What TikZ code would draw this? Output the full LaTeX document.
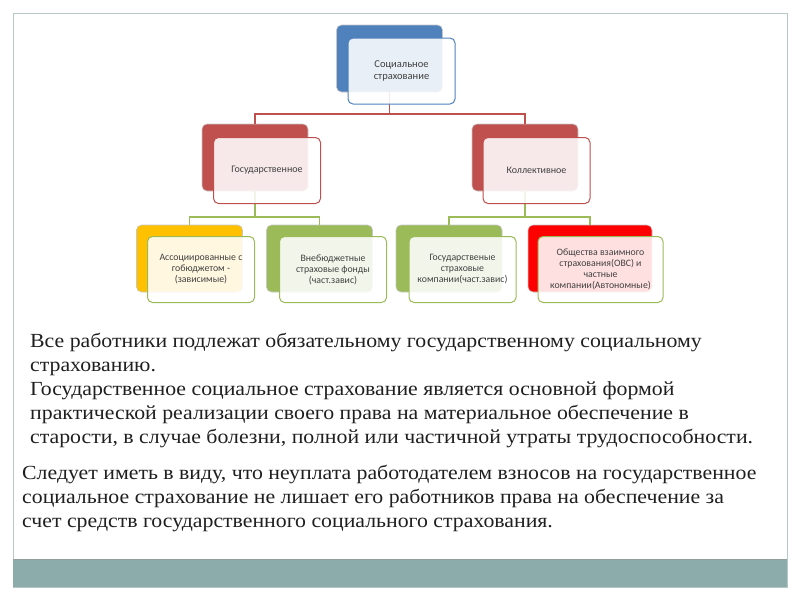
\documentclass[tikz,border=0pt]{standalone}
\usepackage{fontspec}
\setmainfont{Liberation Serif}[FakeStretch=1.09]
\newfontfamily\boxfont{Carlito}
\definecolor{cblue}{HTML}{4F81BD}
\definecolor{cred}{HTML}{C0504D}
\definecolor{cgreen}{HTML}{9BBB59}
\definecolor{cyellow}{HTML}{FFC000}
\definecolor{cbright}{HTML}{FF0000}
\definecolor{framec}{HTML}{B7C7C7}
\definecolor{barc}{HTML}{8BACAB}
\definecolor{boxtext}{HTML}{404040}
\tikzset{
  backbox/.style={rectangle, rounded corners=5pt, fill=#1, draw=gray!45, line width=0.6pt, minimum width=106pt, minimum height=67pt, inner sep=0pt},
  frontbox/.style={rectangle, rounded corners=5pt, draw=#1, line width=1pt, fill=white, fill opacity=0.88, text opacity=1, minimum width=107pt, minimum height=66pt, inner sep=1pt, align=center, font=\boxfont\fontsize{9.8}{11}\selectfont, text=boxtext},
  redline/.style={draw=cred, line width=1.3pt},
  greenline/.style={draw=cgreen, line width=1.3pt},
  para/.style={anchor=base west, inner sep=0pt, font=\fontsize{20}{24}\selectfont, text=black!88}
}
\begin{document}
\begin{tikzpicture}[x=1pt,y=-1pt]
\useasboundingbox (0,0) rectangle (800,600);
\draw[framec, line width=1pt] (13,13) rectangle (787,587);
\fill[barc] (13,559) rectangle (787,587);
\draw[framec!80!black, line width=0.6pt] (13,559) -- (787,559);

% back boxes
\node[backbox=cblue] (top) at (389.5,58.5) {};
\node[backbox=cred] (gos) at (255,157.5) {};
\node[backbox=cred] (kol) at (525,157.5) {};
\node[backbox=cyellow] (yel) at (189.5,258.5) {};
\node[backbox=cgreen] (gr1) at (319.5,258.5) {};
\node[backbox=cgreen] (gr2) at (449,258.5) {};
\node[backbox=cbright, minimum width=124pt] (rd) at (590,258.5) {};

% connectors
\coordinate (bus1) at (389.5,114);
\coordinate (bus2) at (255,217);
\coordinate (bus3) at (525,217);
\draw[redline] (top.south) -- (bus1);
\draw[redline] (gos.north) |- (bus1) -| (kol.north);
\draw[greenline] (gos.south) -- (bus2);
\draw[greenline] (yel.north) |- (bus2) -| (gr1.north);
\draw[greenline] (kol.south) -- (bus3);
\draw[greenline] (gr2.north) |- (bus3) -| (rd.north);

% front boxes
\node[frontbox=cblue, font=\boxfont\fontsize{10.5}{12.5}\selectfont] (topf) at (401.5,71) {Социальное\\страхование};
\node[frontbox=cred, font=\boxfont\fontsize{10}{12}\selectfont] (gosf) at (267,170.5) {Государственное};
\node[frontbox=cred, font=\boxfont\fontsize{10}{12}\selectfont] (kolf) at (536.5,170.5) {Коллективное};
\node[frontbox=cgreen] (yelf) at (201,269.5) {Ассоциированные с\\гобюджетом -\\(зависимые)};
\node[frontbox=cgreen] (gr1f) at (333,269.5) {Внебюджетные\\страховые фонды\\(част.завис)};
\node[frontbox=cgreen] (gr2f) at (462.5,269.5) {Государственые\\страховые\\компании(част.завис)};
\node[frontbox=cgreen, minimum width=125pt] (rdf) at (600.5,269.5) {Общества взаимного\\страхования(ОВС) и\\частные\\компании(Автономные)};

% paragraphs
\node[para] (p1) at (30,347) {Все работники подлежат обязательному государственному социальному};
\node[para] (p2) at (30,371) {страхованию.};
\node[para] (p3) at (30,395) {Государственное социальное страхование является основной формой};
\node[para] (p4) at (30,419) {практической реализации своего права на материальное обеспечение в};
\node[para] (p5) at (30,443) {старости, в случае болезни, полной или частичной утраты трудоспособности.};
\node[para] (q1) at (22,479) {Следует иметь в виду, что неуплата работодателем взносов на государственное};
\node[para] (q2) at (22,503) {социальное страхование не лишает его работников права на обеспечение за};
\node[para] (q3) at (22,527) {счет средств государственного социального страхования.};
\end{tikzpicture}
\end{document}
